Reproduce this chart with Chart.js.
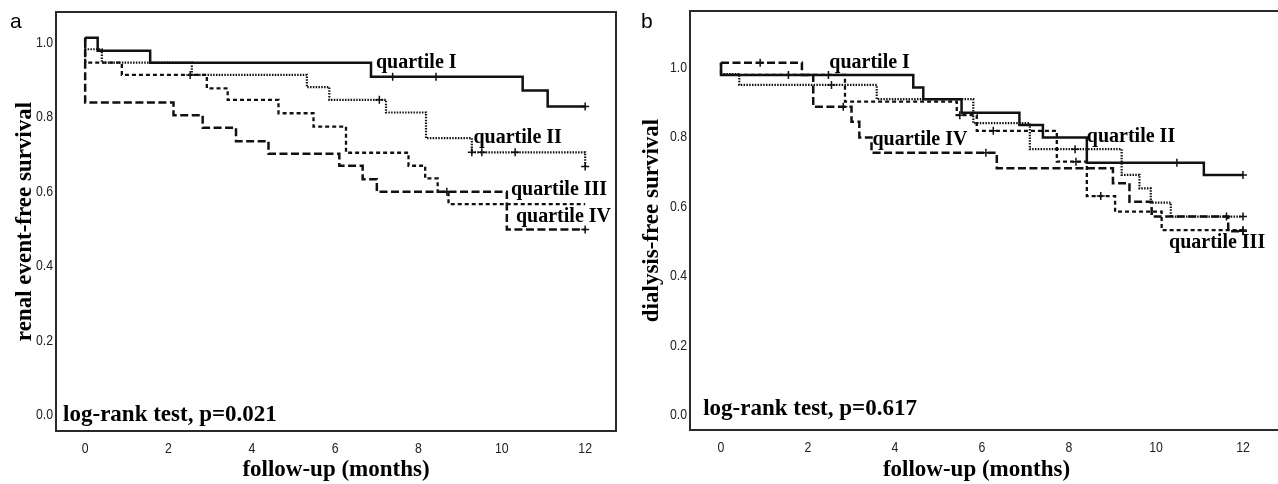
<!DOCTYPE html>
<html>
<head>
<meta charset="utf-8">
<script src="https://cdn.jsdelivr.net/npm/chart.js@4.4.0/dist/chart.umd.min.js"></script>
<style>
html, body { margin: 0; padding: 0; background: #fff; overflow: hidden; width: 1278px; height: 484px; }
canvas { position: absolute; top: 0; }
#chartA { left: 0; }
#chartB { left: 640px; }
</style>
</head>
<body>
<canvas id="chartA" width="640" height="484"></canvas>
<canvas id="chartB" width="638" height="484"></canvas>
<script>
// axis ticks
const monthTicks = [0, 2, 4, 6, 8, 10, 12];
const survivalTicks = [0, 0.2, 0.4, 0.6, 0.8, 1.0];
const quartileNames = ['quartile I', 'quartile II', 'quartile III', 'quartile IV'];

// (a) renal event-free survival, [month, survival]
const renalQ1 = [[0, 1], [0.30, 0.965], [1.56, 0.933], [6.86, 0.895], [10.50, 0.858], [11.10, 0.815], [12, 0.815]];
const renalQ2 = [[0, 1], [0, 0.969], [0.40, 0.933], [2.56, 0.900], [5.32, 0.867], [5.86, 0.833], [7.22, 0.799], [8.18, 0.730], [9.28, 0.692], [12, 0.654]];
const renalQ3 = [[0, 1], [0, 0.933], [0.88, 0.900], [2.92, 0.864], [3.42, 0.833], [4.64, 0.797], [5.48, 0.761], [6.26, 0.691], [7.76, 0.656], [8.16, 0.622], [8.46, 0.586], [8.72, 0.553], [12, 0.553]];
const renalQ4 = [[0, 1], [0, 0.826], [2.12, 0.792], [2.82, 0.758], [3.62, 0.722], [4.40, 0.688], [6.10, 0.656], [6.66, 0.620], [7.00, 0.586], [10.12, 0.485], [12, 0.485]];
// censored cases
const renalCensorQ1 = [[7.38, 0.895], [8.42, 0.895], [12, 0.815]];
const renalCensorQ2 = [[7.06, 0.833], [9.28, 0.692], [9.52, 0.692], [10.32, 0.692], [12, 0.654]];
const renalCensorQ3 = [[2.52, 0.900]];
const renalCensorQ4 = [[8.68, 0.586], [12, 0.485]];
const renalNote = 'log-rank test, p=0.021';

// (b) dialysis-free survival, [month, survival]
const dialysisQ1 = [[0, 1], [0, 0.965], [4.42, 0.929], [4.65, 0.895], [5.53, 0.856], [6.86, 0.821], [7.40, 0.785], [8.41, 0.712], [11.10, 0.677], [12, 0.677]];
const dialysisQ2 = [[0, 1], [0, 0.967], [0.42, 0.936], [3.58, 0.895], [5.80, 0.826], [7.10, 0.751], [9.21, 0.677], [9.62, 0.638], [9.88, 0.597], [10.34, 0.557], [12, 0.557]];
const dialysisQ3 = [[0, 1], [0, 0.965], [2.85, 0.888], [5.42, 0.849], [5.88, 0.804], [7.72, 0.715], [8.41, 0.616], [9.06, 0.571], [10.13, 0.518], [12, 0.518]];
const dialysisQ4 = [[0, 1], [1.86, 0.965], [2.12, 0.873], [3.00, 0.830], [3.18, 0.785], [3.46, 0.741], [6.34, 0.696], [9.01, 0.653], [9.39, 0.600], [9.90, 0.557], [11.66, 0.515], [12, 0.515]];
const dialysisCensorQ1 = [[1.55, 0.965], [2.47, 0.965], [10.48, 0.712], [12, 0.677]];
const dialysisCensorQ2 = [[2.54, 0.936], [8.14, 0.751], [11.62, 0.557], [12, 0.557]];
const dialysisCensorQ3 = [[5.49, 0.849], [6.26, 0.804], [8.16, 0.715], [8.73, 0.616], [12, 0.518]];
const dialysisCensorQ4 = [[0.90, 1.0], [2.81, 0.873], [6.09, 0.741], [12, 0.515]];
const dialysisNote = 'log-rank test, p=0.617';

// where the curve labels sit (data units)
const renalLabelAt = [[6.98, 0.919], [9.32, 0.717], [10.22, 0.577], [10.34, 0.506]];
const renalNoteAt = [-0.53, -0.030];
const dialysisLabelAt = [[2.49, 0.984], [8.41, 0.773], [10.30, 0.466], [3.48, 0.763]];
const dialysisNoteAt = [-0.41, -0.014];

const lineStyles = [
    { dash: [], width: 2.5 },
    { dash: [1.5, 1.3], width: 2.2 },
    { dash: [4, 3], width: 2.3 },
    { dash: [8, 3.5], width: 2.5 }
];
const serif = '"Liberation Serif", "Times New Roman", serif';
const tickFontCss = '15px "Liberation Sans", Arial, sans-serif';
const titleFont = { family: serif, size: 23, weight: 'bold', lineHeight: 1 };

// narrow tick text (Arial Narrow look), squeezed sideways
function narrowText(ctx, text, x, y, align) {
    ctx.save();
    ctx.translate(x, y);
    ctx.scale(0.82, 1);
    ctx.textAlign = align;
    ctx.textBaseline = 'middle';
    ctx.fillText(text, 0, 0);
    ctx.restore();
}

const tickPlugin = {
    id: 'narrowTicks',
    afterDraw(chart) {
        const { ctx, chartArea: a, scales: { x, y } } = chart;
        ctx.save();
        ctx.fillStyle = '#222';
        ctx.font = tickFontCss;
        x.ticks.forEach(function(t, i) {
            narrowText(ctx, String(t.value), x.getPixelForTick(i), a.bottom + 18, 'center');
        });
        y.ticks.forEach(function(t, i) {
            narrowText(ctx, t.value.toFixed(1), a.left - 3, y.getPixelForTick(i) + 5, 'right');
        });
        ctx.restore();
    }
};

const framePlugin = {
    id: 'frame',
    afterDatasetsDraw(chart, args, opts) {
        const { ctx, chartArea: a } = chart;
        ctx.save();
        ctx.strokeStyle = '#2a2a2a';
        ctx.lineWidth = 2;
        if (opts.full) {
            ctx.strokeRect(a.left, a.top, a.right - a.left, a.bottom - a.top);
        } else {
            ctx.beginPath();
            ctx.moveTo(chart.width, a.top);
            ctx.lineTo(a.left, a.top);
            ctx.lineTo(a.left, a.bottom);
            ctx.lineTo(chart.width, a.bottom);
            ctx.stroke();
        }
        ctx.restore();
    }
};

const textPlugin = {
    id: 'texts',
    afterDraw(chart, args, opts) {
        const { ctx, scales: { x, y } } = chart;
        ctx.save();
        ctx.fillStyle = '#000';
        ctx.textBaseline = 'alphabetic';
        ctx.textAlign = 'left';
        ctx.font = 'bold 20px ' + serif;
        opts.labelAt.forEach((p, i) => {
            ctx.fillText(quartileNames[i], x.getPixelForValue(p[0]), y.getPixelForValue(p[1]));
        });
        ctx.font = 'bold 23px ' + serif;
        ctx.fillText(opts.note, x.getPixelForValue(opts.noteAt[0]), y.getPixelForValue(opts.noteAt[1]));
        ctx.font = '21px "Liberation Sans", Arial, sans-serif';
        ctx.fillText(opts.letter, opts.letterX, 28);
        ctx.restore();
    }
};

function survivalChart(canvasId, o) {
    const datasets = [];
    o.curves.forEach(function(pts, i) {
        datasets.push({
            type: 'line',
            data: pts.map(p => ({ x: p[0], y: p[1] })),
            stepped: true,
            borderColor: '#111',
            borderWidth: lineStyles[i].width,
            borderDash: lineStyles[i].dash,
            pointRadius: 0,
            fill: false
        });
    });
    o.censors.forEach(function(pts) {
        datasets.push({
            type: 'line',
            data: pts.map(p => ({ x: p[0], y: p[1] })),
            showLine: false,
            pointStyle: 'cross',
            pointRadius: 4,
            borderWidth: 1.5,
            borderColor: '#111',
            backgroundColor: '#111'
        });
    });

    return new Chart(document.getElementById(canvasId).getContext('2d'), {
        type: 'line',
        data: { datasets: datasets },
        options: {
            responsive: false,
            animation: false,
            layout: { padding: o.padding },
            plugins: {
                legend: { display: false },
                tooltip: { enabled: false },
                frame: { full: o.fullFrame },
                texts: { labelAt: o.labelAt, note: o.note, noteAt: o.noteAt, letter: o.letter, letterX: o.letterX }
            },
            scales: {
                x: {
                    type: 'linear',
                    min: o.xMin,
                    max: o.xMax,
                    grid: { display: false, drawTicks: false },
                    border: { display: false },
                    afterBuildTicks: s => { s.ticks = monthTicks.map(v => ({ value: v })); },
                    afterFit: s => { s.height = o.xHeight; },
                    ticks: { display: false },
                    title: { display: true, text: 'follow-up (months)', font: titleFont, color: '#000', padding: { top: 0, bottom: 2 } }
                },
                y: {
                    type: 'linear',
                    min: o.yMin,
                    max: o.yMax,
                    grid: { display: false, drawTicks: false },
                    border: { display: false },
                    afterBuildTicks: s => { s.ticks = survivalTicks.map(v => ({ value: v })); },
                    afterFit: s => { s.width = o.yWidth; },
                    ticks: { display: false },
                    title: { display: true, text: o.yTitle, font: titleFont, color: '#000', padding: { top: o.yTitlePad, bottom: 0 } }
                }
            }
        },
        plugins: [framePlugin, tickPlugin, textPlugin]
    });
}

document.addEventListener('DOMContentLoaded', function() {
    // panel a
    survivalChart('chartA', {
        curves: [renalQ1, renalQ2, renalQ3, renalQ4],
        censors: [renalCensorQ1, renalCensorQ2, renalCensorQ3, renalCensorQ4],
        labelAt: renalLabelAt, note: renalNote, noteAt: renalNoteAt,
        letter: 'a', letterX: 10,
        yTitle: 'renal event-free survival', yTitlePad: 13.5,
        padding: { left: 0, top: 12, right: 24, bottom: 0 },
        yWidth: 56, xHeight: 53,
        xMin: -0.70, xMax: 12.74, yMin: -0.0564, yMax: 1.069,
        fullFrame: true
    });

    // panel b
    survivalChart('chartB', {
        curves: [dialysisQ1, dialysisQ2, dialysisQ3, dialysisQ4],
        censors: [dialysisCensorQ1, dialysisCensorQ2, dialysisCensorQ3, dialysisCensorQ4],
        labelAt: dialysisLabelAt, note: dialysisNote, noteAt: dialysisNoteAt,
        letter: 'b', letterX: 1,
        yTitle: 'dialysis-free survival', yTitlePad: 0.5,
        padding: { left: 0, top: 11, right: 15, bottom: 0 },
        yWidth: 50, xHeight: 54,
        xMin: -0.713, xMax: 12.46, yMin: -0.0576, yMax: 1.149,
        fullFrame: false
    });
});
</script>
</body>
</html>
